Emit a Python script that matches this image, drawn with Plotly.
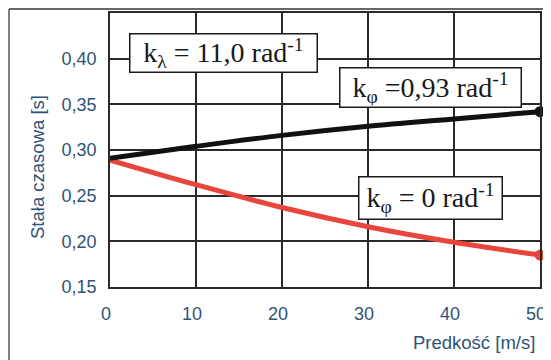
import plotly.graph_objects as go

# Data
speed = [0, 10, 20, 30, 40, 50]
t_k093 = [0.291, 0.304, 0.316, 0.326, 0.334, 0.342]
t_k0 = [0.289, 0.262, 0.237, 0.216, 0.199, 0.185]
y_ticks = [0.15, 0.20, 0.25, 0.30, 0.35, 0.40]
y_tick_labels = ["0,15", "0,20", "0,25", "0,30", "0,35", "0,40"]
x_ticks = [0, 10, 20, 30, 40, 50]

# page has an 8px body margin, so the figure is drawn 8px right/down
OFF = 8
W, H = 551 - OFF, 360 - OFF
ML, MR, MT, MB = 110 - OFF, 551 - 540, 13 - OFF, 360 - 287
PW, PH = W - ML - MR, H - MT - MB

def px(x):
    return (x - OFF - ML) / PW

def py(y):
    return (H - MB - (y - OFF)) / PH

tick_font = dict(family="Liberation Sans, Arial", size=18, color="#2f5378")
serif = dict(family="Liberation Serif, Times New Roman, serif", size=28, color="#1a1a1a")

fig = go.Figure()
fig.add_trace(go.Scatter(x=speed, y=t_k0, mode="lines", line=dict(color="#e8453c", width=5, shape="spline"),
                         showlegend=False, cliponaxis=False))
fig.add_trace(go.Scatter(x=[speed[-1]], y=[t_k0[-1]], mode="markers",
                         marker=dict(color="#e8453c", size=11), showlegend=False, cliponaxis=False))
fig.add_trace(go.Scatter(x=speed, y=t_k093, mode="lines", line=dict(color="#111111", width=5, shape="spline"),
                         showlegend=False, cliponaxis=False))
fig.add_trace(go.Scatter(x=[speed[-1]], y=[t_k093[-1]], mode="markers",
                         marker=dict(color="#111111", size=11), showlegend=False, cliponaxis=False))

fig.update_xaxes(range=[0, 50], tickvals=x_ticks, showgrid=True, gridcolor="#2a2a2a", gridwidth=1.5,
                 showline=True, linecolor="#2a2a2a", linewidth=1.5, mirror=True,
                 ticks="outside", ticklen=10, tickcolor="rgba(0,0,0,0)", ticklabelshift=-4,
                 tickfont=tick_font, zeroline=False, automargin=False)
fig.update_yaxes(range=[0.15, 0.45], tickvals=y_ticks, ticktext=y_tick_labels, showgrid=True,
                 gridcolor="#2a2a2a", gridwidth=1.5,
                 showline=True, linecolor="#2a2a2a", linewidth=1.5, mirror=True,
                 ticks="outside", ticklen=8, tickcolor="rgba(0,0,0,0)",
                 tickfont=tick_font, zeroline=False, automargin=False)

anns = [
    dict(x=px(223), y=py(53), text="k<sub>λ</sub> = 11,0 rad<sup>-1</sup>", width=184, height=35),
    dict(x=px(430), y=py(87), text="k<sub>φ</sub> =0,93 rad<sup>-1</sup>", width=178, height=36),
    dict(x=px(430), y=py(198), text="k<sub>φ</sub> = 0 rad<sup>-1</sup>", width=140, height=39),
]
for a in anns:
    fig.add_annotation(xref="paper", yref="paper", showarrow=False, font=serif,
                       bgcolor="white", bordercolor="#1a1a1a", borderwidth=1.5, borderpad=1,
                       xanchor="center", yanchor="middle", align="center", valign="middle", **a)

fig.add_annotation(xref="paper", yref="paper", x=px(37), y=py(167), text="Stała czasowa [s]",
                   textangle=-90, showarrow=False, xanchor="center", yanchor="middle",
                   font=dict(family="Liberation Sans, Arial", size=18.5, color="#2f5378"))
fig.add_annotation(xref="paper", yref="paper", x=px(537), y=py(342), text="Predkość [m/s]",
                   showarrow=False, xanchor="right", yanchor="middle",
                   font=dict(family="Liberation Sans, Arial", size=18.5, color="#2f5378"))

# outer frame (top and left edges of cropped figure)
fig.add_shape(type="line", xref="paper", yref="paper", x0=px(9), x1=px(600), y0=py(9), y1=py(9),
              line=dict(color="#333", width=1.5))
fig.add_shape(type="line", xref="paper", yref="paper", x0=px(9), x1=px(9), y0=py(9), y1=py(400),
              line=dict(color="#555", width=1.5))

fig.update_layout(width=W, height=H, margin=dict(l=ML, r=MR, t=MT, b=MB),
                  plot_bgcolor="white", paper_bgcolor="white")
fig.write_html("out.html")
